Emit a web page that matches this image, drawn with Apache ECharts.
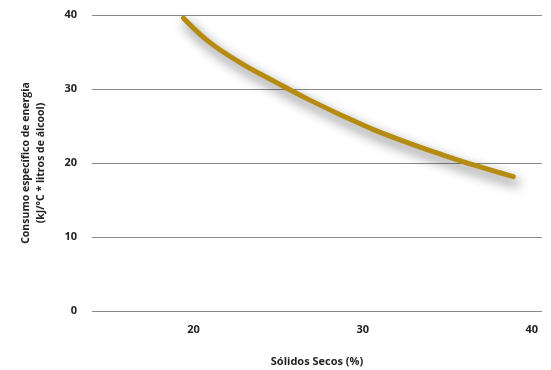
<!DOCTYPE html>
<html><head><meta charset="utf-8">
<script src="https://cdn.jsdelivr.net/npm/echarts@6/dist/echarts.min.js"></script>
<style>html,body{margin:0;padding:0;background:#fff}#c{width:551px;height:370px}</style>
</head><body><div id="c"></div>
<script>
const solidos = [19.4, 20.9, 22.8, 24.8, 26.7, 28.7, 30.6, 32.6, 34.6, 36.6, 38.9];
const consumo = [39.6, 36.4, 33.5, 31.0, 28.7, 26.5, 24.55, 22.8, 21.2, 19.7, 18.15];
const xTicks = [20, 30, 40];
const yTicks = [0, 10, 20, 30, 40];
const xTitle = 'Sólidos Secos (%)';
const yTitle = 'Consumo específico de energia\n(kJ/°C * litros de álcool)';

const chart = echarts.init(document.getElementById('c'));
const font = 'Open Sans';
chart.setOption({
  animation: false,
  grid: {left: 92, right: 9, top: 15, bottom: 59, containLabel: false, outerBoundsMode: 'none'},
  xAxis: {
    type: 'value', min: 14, max: 40.6,
    axisLine: {show: false}, axisTick: {show: false}, splitLine: {show: false},
    axisLabel: {customValues: xTicks, color: '#222', fontFamily: font, fontWeight: 'bold', fontSize: 11, margin: 13},
    name: xTitle, nameLocation: 'middle', nameGap: 45,
    nameTextStyle: {color: '#222', fontFamily: font, fontWeight: 'bold', fontSize: 11}
  },
  yAxis: {
    type: 'value', min: 0, max: 40, interval: 10,
    axisLine: {show: false}, axisTick: {show: false},
    splitLine: {lineStyle: {color: '#8a8a8a', width: 1}},
    axisLabel: {customValues: yTicks, color: '#222', fontFamily: font, fontWeight: 'bold', fontSize: 11, margin: 15},
    name: yTitle, nameLocation: 'middle', nameRotate: 90, nameGap: 43,
    nameTextStyle: {color: '#222', fontFamily: font, fontWeight: 'bold', fontSize: 10.5, lineHeight: 15, align: 'center'}
  },
  series: [{
    type: 'line', smooth: 0.4, symbol: 'none',
    data: solidos.map((x, i) => [x, consumo[i]]),
    lineStyle: {color: '#b58b12', width: 5, cap: 'round',
      shadowColor: 'rgba(0,0,0,0.6)', shadowBlur: 12, shadowOffsetX: 3, shadowOffsetY: 6}
  }]
});
</script></body></html>
